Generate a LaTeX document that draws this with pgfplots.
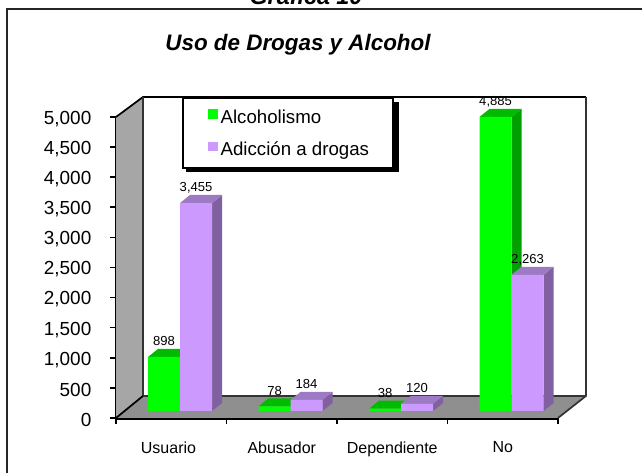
\documentclass[border=0pt]{standalone}
\usepackage{pgfplots}
\pgfplotsset{compat=1.18}
\usepackage{fontspec}
\setmainfont{Liberation Sans}
\definecolor{grn}{HTML}{00FF00}
\definecolor{grnT}{HTML}{00BB00}
\definecolor{grnS}{HTML}{00A000}
\definecolor{pur}{HTML}{CC99FF}
\definecolor{purT}{HTML}{9C7BC4}
\definecolor{purS}{HTML}{8060A0}
\definecolor{wallL}{HTML}{A6A6A6}
\definecolor{floorC}{HTML}{8F8F8F}
\definecolor{edgeC}{HTML}{333333}
\pgfplotsset{
  face/.style={fill=#1,draw=none,forget plot,yshift=5.25pt},
  wall/.style={fill=#1,draw=none,forget plot},
  edge/.style={draw=edgeC,line width=1.3pt,forget plot},
  barS/.style 2 args={ybar,fill=#1,draw=none,bar width=24pt,bar shift=#2,yshift=5.25pt,
    nodes near coords,
    every node near coord/.append style={font=\fontsize{9.8}{10}\selectfont,anchor=center,xshift=#2,yshift=11.6pt,text=black,
      /pgf/number format/.cd,1000 sep={,},fixed}},
}
\begin{document}
\begin{tikzpicture}[x=0.75pt,y=0.75pt]
\useasboundingbox (0,0) rectangle (642,473);
\clip (0,0) rectangle (642,473);
\node[anchor=base,font=\bfseries\itshape\fontsize{17.5}{19}\selectfont] at (306,468) {Gráfica 10};
\draw[line width=1.5pt,black!85] (6.5,-5) -- (6.5,463.5) -- (650,463.5);
\node[font=\bfseries\itshape\fontsize{16.8}{19}\selectfont] at (298,428) {Uso de Drogas y Alcohol};
\begin{axis}[
  at={(116*0.75pt,55*0.75pt)},anchor=origin,
  scale only axis,width=331.5pt,height=225.75pt,
  xmin=0,xmax=4,ymin=0,ymax=5000,clip=false,
  axis lines=left,axis line style={-,line width=1.6pt,black},
  x axis line style={line width=2.4pt},
  xtick={0,1,2,3,4},xticklabels={},
  extra x ticks={0.475,1.5,2.5,3.5},
  extra x tick labels={Usuario,Abusador,Dependiente,No},
  extra x tick style={major tick length=0pt,tick style={draw=none},
    xticklabel style={font=\fontsize{12}{14}\selectfont,yshift=-14.2pt}},
  ytick={0,500,...,5000},
  tick align=outside,major tick length=4.5pt,
  tick style={black,line width=1.2pt},
  yticklabel style={font=\fontsize{14.2}{16}\selectfont,xshift=-10.5pt,yshift=-1.5pt},
  /pgf/number format/assume math mode=true,
  /pgf/number format/1000 sep={,},
  scaled y ticks=false,
  legend style={at={(axis cs:0.597,5332)},anchor=north west,
    draw=black,line width=1.6pt,fill=white,
    font=\fontsize{14}{16}\selectfont,
    inner xsep=16pt,inner ysep=6pt,row sep=8.25pt,
    /tikz/every even column/.append style={column sep=2pt}},
  legend cell align=left,
  legend image code/.code={\path (0pt,0pt) -- (1pt,0pt);\fill[#1] (3pt,-6.6pt) rectangle (10.2pt,0.6pt);},
]
% walls and floor
\addplot[wall=wallL] coordinates {(0,5000)(0.244,5332)(0.244,366)(0,0)} --cycle;
\addplot[wall=floorC] coordinates {(0,0)(0.244,366)(4.253,366)(4,0)} --cycle;
\addplot[edge,draw=black] coordinates {(0,5000)(0.244,5332)(4.253,5332)};
\addplot[edge] coordinates {(0.244,5332)(0.244,366)(4.253,366)};
\addplot[edge] coordinates {(4.253,5332)(4.253,366)(4,0)};
\addplot[edge,draw=black] coordinates {(0,0)(0.244,366)};
% legend shadow
\addplot[fill=black,draw=none,forget plot] coordinates {(.633,5249)(2.561,5249)(2.561,4086)(.633,4086)} --cycle;
% green series: side and top faces
\addplot[face=grnS] coordinates {(.58,0)(.67,133)(.67,1031)(.58,898)} --cycle;
\addplot[face=grnT] coordinates {(.29,898)(.38,1031)(.67,1031)(.58,898)} --cycle;
\addplot[face=grnS] coordinates {(1.58,0)(1.67,133)(1.67,211)(1.58,78)} --cycle;
\addplot[face=grnT] coordinates {(1.29,78)(1.38,211)(1.67,211)(1.58,78)} --cycle;
\addplot[face=grnS] coordinates {(2.58,0)(2.67,133)(2.67,171)(2.58,38)} --cycle;
\addplot[face=grnT] coordinates {(2.29,38)(2.38,171)(2.67,171)(2.58,38)} --cycle;
\addplot[face=grnS] coordinates {(3.58,0)(3.67,133)(3.67,5018)(3.58,4885)} --cycle;
\addplot[face=grnT] coordinates {(3.29,4885)(3.38,5018)(3.67,5018)(3.58,4885)} --cycle;
\addplot[barS={grn}{-12pt}] coordinates {(.58,898)(1.58,78)(2.58,38)(3.58,4885)};
\addlegendentry{\rule{0pt}{11pt}Alcoholismo}
% purple series: side and top faces
\addplot[face=purS] coordinates {(.87,0)(.96,133)(.96,3588)(.87,3455)} --cycle;
\addplot[face=purT] coordinates {(.58,3455)(.67,3588)(.96,3588)(.87,3455)} --cycle;
\addplot[face=purS] coordinates {(1.87,0)(1.96,133)(1.96,317)(1.87,184)} --cycle;
\addplot[face=purT] coordinates {(1.58,184)(1.67,317)(1.96,317)(1.87,184)} --cycle;
\addplot[face=purS] coordinates {(2.87,0)(2.96,133)(2.96,253)(2.87,120)} --cycle;
\addplot[face=purT] coordinates {(2.58,120)(2.67,253)(2.96,253)(2.87,120)} --cycle;
\addplot[face=purS] coordinates {(3.87,0)(3.96,133)(3.96,2396)(3.87,2263)} --cycle;
\addplot[face=purT] coordinates {(3.58,2263)(3.67,2396)(3.96,2396)(3.87,2263)} --cycle;
\addplot[barS={pur}{12pt}] coordinates {(.58,3455)(1.58,184)(2.58,120)(3.58,2263)};
\addlegendentry{\raisebox{0pt}[\height][0pt]{Adicción a drogas}}
\end{axis}
\end{tikzpicture}
\end{document}
